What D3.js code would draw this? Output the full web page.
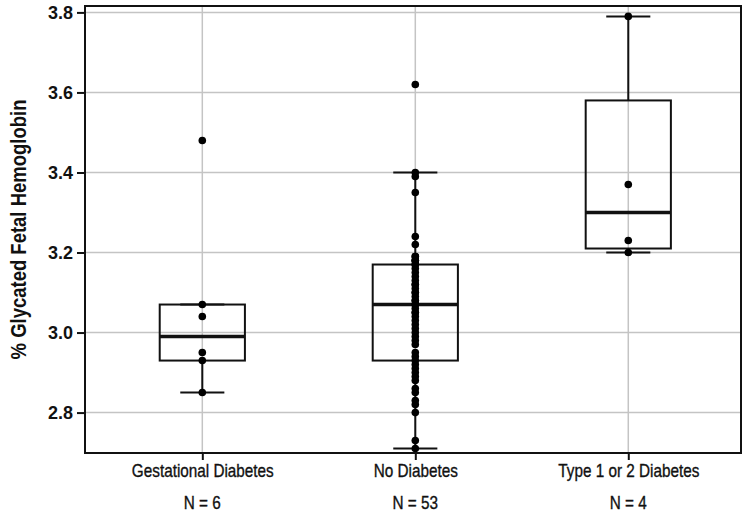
<!DOCTYPE html>
<html>
<head>
<meta charset="utf-8">
<script src="https://cdn.jsdelivr.net/npm/d3@7"></script>
<style>
  html, body { margin: 0; padding: 0; background: #fff; }
  svg { display: block; }
  text { font-family: "Liberation Sans", Arial, sans-serif; fill: #111; }
</style>
</head>
<body>
<svg id="chart" width="750" height="529"></svg>
<script>
// ---- data ----
const categories = ["Gestational Diabetes", "No Diabetes", "Type 1 or 2 Diabetes"];
const countLabels = ["N = 6", "N = 53", "N = 4"];
const yTicks = [2.8, 3.0, 3.2, 3.4, 3.6, 3.8];

const gestationalValues = [3.48, 3.07, 3.04, 2.95, 2.93, 2.85];
const noDiabetesValues = [
  3.62, 3.40, 3.39, 3.35, 3.24, 3.22, 3.19, 3.19, 3.18, 3.18, 3.18, 3.17, 3.17,
  3.16, 3.15, 3.14, 3.13, 3.12, 3.12, 3.11, 3.10, 3.10, 3.09, 3.08, 3.08, 3.07,
  3.07,
  3.06, 3.05, 3.05, 3.04, 3.03, 3.02, 3.01, 3.00, 2.99, 2.98, 2.97, 2.95, 2.94,
  2.93, 2.92, 2.91, 2.90, 2.89, 2.88, 2.86, 2.85, 2.83, 2.82, 2.80, 2.73, 2.71
];
const typeValues = [3.79, 3.37, 3.23, 3.20];

// box statistics per category
const q1 = [2.93, 2.93, 3.21];
const medians = [2.99, 3.07, 3.30];
const q3 = [3.07, 3.17, 3.58];
const whiskerLow = [2.85, 2.71, 3.20];
const whiskerHigh = [3.07, 3.40, 3.79];

const seriesValues = [gestationalValues, noDiabetesValues, typeValues];

// ---- layout ----
const svg = d3.select("#chart");
const mLeft = 85, mRight = 741, mTop = 6, mBottom = 453;
const squeeze = 0.85; // the reference uses a condensed face

const x = d3.scalePoint().domain(categories).range([mLeft, mRight]).padding(0.54).align(0.51);
const y = d3.scaleLinear().domain([2.699, 3.816]).range([mBottom, mTop]);

const boxW = x.step() * 0.4;
const capW = x.step() * 0.207;

// gridlines
const grid = svg.append("g");
grid.selectAll("line.h").data(yTicks).join("line")
  .attr("x1", mLeft).attr("x2", mRight)
  .attr("y1", d => y(d)).attr("y2", d => y(d))
  .attr("stroke", "#c4c4c4").attr("stroke-width", 1.5);
grid.selectAll("line.v").data(categories).join("line")
  .attr("x1", d => x(d)).attr("x2", d => x(d))
  .attr("y1", mTop).attr("y2", mBottom)
  .attr("stroke", "#c4c4c4").attr("stroke-width", 1.5);

// boxes
const stats = categories.map((c, i) => ({
  c, q1: q1[i], med: medians[i], q3: q3[i], lo: whiskerLow[i], hi: whiskerHigh[i]
}));
const boxes = svg.append("g").selectAll("g").data(stats).join("g");
boxes.append("line")
  .attr("x1", d => x(d.c)).attr("x2", d => x(d.c))
  .attr("y1", d => y(d.q3)).attr("y2", d => y(d.hi))
  .attr("stroke", "#111").attr("stroke-width", 2);
boxes.append("line")
  .attr("x1", d => x(d.c)).attr("x2", d => x(d.c))
  .attr("y1", d => y(d.q1)).attr("y2", d => y(d.lo))
  .attr("stroke", "#111").attr("stroke-width", 2);
boxes.append("line")
  .attr("x1", d => x(d.c) - capW / 2).attr("x2", d => x(d.c) + capW / 2)
  .attr("y1", d => y(d.hi)).attr("y2", d => y(d.hi))
  .attr("stroke", "#111").attr("stroke-width", 2);
boxes.append("line")
  .attr("x1", d => x(d.c) - capW / 2).attr("x2", d => x(d.c) + capW / 2)
  .attr("y1", d => y(d.lo)).attr("y2", d => y(d.lo))
  .attr("stroke", "#111").attr("stroke-width", 2);
boxes.append("rect")
  .attr("x", d => x(d.c) - boxW / 2).attr("width", boxW)
  .attr("y", d => y(d.q3)).attr("height", d => y(d.q1) - y(d.q3))
  .attr("fill", "none").attr("stroke", "#111").attr("stroke-width", 2);
boxes.append("line")
  .attr("x1", d => x(d.c) - boxW / 2).attr("x2", d => x(d.c) + boxW / 2)
  .attr("y1", d => y(d.med)).attr("y2", d => y(d.med))
  .attr("stroke", "#111").attr("stroke-width", 3.5);

// points
const pts = [];
seriesValues.forEach((vals, i) => vals.forEach(v => pts.push({ c: categories[i], v })));
svg.append("g").selectAll("circle").data(pts).join("circle")
  .attr("cx", d => x(d.c)).attr("cy", d => y(d.v)).attr("r", 3.8)
  .attr("fill", "#000");

// frame
svg.append("rect")
  .attr("x", mLeft).attr("y", mTop).attr("width", mRight - mLeft).attr("height", mBottom - mTop)
  .attr("fill", "none").attr("stroke", "#111").attr("stroke-width", 2);

// y axis
const yAxis = svg.append("g").attr("transform", `translate(${mLeft},0)`)
  .call(d3.axisLeft(y).tickValues(yTicks).tickFormat(d3.format(".1f")).tickSize(8).tickPadding(4));
yAxis.select(".domain").remove();
yAxis.selectAll(".tick line").attr("stroke", "#111").attr("stroke-width", 2);
yAxis.selectAll(".tick text").attr("font-size", 18).attr("font-weight", "bold").attr("fill", "#222");

// x axis
const xAxis = svg.append("g").attr("transform", `translate(0,${mBottom})`)
  .call(d3.axisBottom(x).tickSize(7).tickPadding(4));
xAxis.select(".domain").remove();
xAxis.selectAll(".tick line").attr("stroke", "#111").attr("stroke-width", 2);
xAxis.selectAll(".tick text").attr("font-size", 18).attr("fill", "#111")
  .attr("stroke", "#111").attr("stroke-width", 0.35)
  .attr("transform", `scale(${squeeze},1)`);

// N labels
svg.append("g").selectAll("text").data(categories).join("text")
  .attr("transform", d => `translate(${x(d)},509) scale(${squeeze},1)`)
  .attr("text-anchor", "middle").attr("font-size", 18)
  .attr("stroke", "#111").attr("stroke-width", 0.35)
  .text((d, i) => countLabels[i]);

// y title
svg.append("text")
  .attr("transform", `translate(26,${(mTop + mBottom) / 2}) rotate(-90) scale(0.86,1)`)
  .attr("text-anchor", "middle").attr("font-size", 21.5).attr("font-weight", "bold")
  .text("% Glycated Fetal Hemoglobin");
</script>
</body>
</html>
